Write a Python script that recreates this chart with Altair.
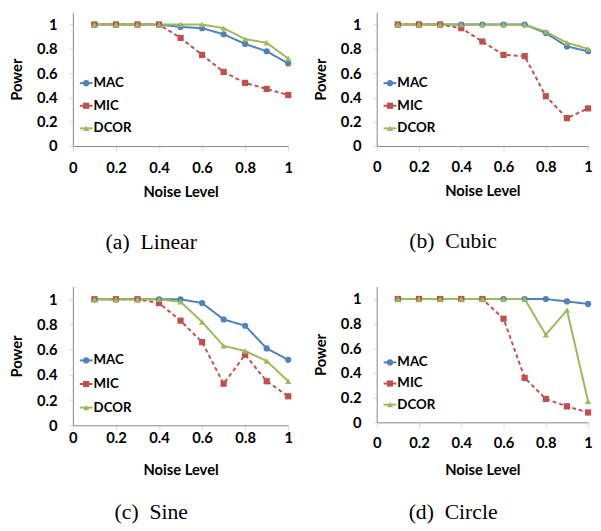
import altair as alt
import pandas as pd

# ---------------- data ----------------
noise = [0.1, 0.2, 0.3, 0.4, 0.5, 0.6, 0.7, 0.8, 0.9, 1.0]
methods = ["MAC", "MIC", "DCOR"]
captions = ["(a)\u00a0 Linear", "(b)\u00a0 Cubic", "(c)\u00a0 Sine", "(d)\u00a0 Circle"]
x_ticks = [0, 0.2, 0.4, 0.6, 0.8, 1]
y_ticks = [0, 0.2, 0.4, 0.6, 0.8, 1]

linear_mac = [1, 1, 1, 1, 0.98, 0.97, 0.92, 0.84, 0.78, 0.68]
linear_mic = [1, 1, 1, 1, 0.89, 0.75, 0.61, 0.52, 0.47, 0.42]
linear_dcor = [1, 1, 1, 1, 1, 1, 0.97, 0.88, 0.85, 0.72]

cubic_mac = [1, 1, 1, 1, 1, 1, 1, 0.93, 0.82, 0.78]
cubic_mic = [1, 1, 1, 0.97, 0.86, 0.75, 0.74, 0.41, 0.23, 0.31]
cubic_dcor = [1, 1, 1, 1, 1, 1, 1, 0.94, 0.85, 0.80]

sine_mac = [1, 1, 1, 1, 1, 0.97, 0.84, 0.79, 0.61, 0.52]
sine_mic = [1, 1, 1, 0.97, 0.83, 0.66, 0.33, 0.56, 0.35, 0.23]
sine_dcor = [1, 1, 1, 1, 0.98, 0.82, 0.63, 0.59, 0.51, 0.35]

circle_mac = [1, 1, 1, 1, 1, 1, 1, 1, 0.98, 0.96]
circle_mic = [1, 1, 1, 1, 1, 0.84, 0.36, 0.19, 0.13, 0.08]
circle_dcor = [1, 1, 1, 1, 1, 1, 1, 0.71, 0.91, 0.17]

# ---------------- style ----------------
COLORS = ["#4F81BD", "#C0504D", "#9BBB59"]
SHAPES = ["circle", "square", "triangle-up"]
DASHES = [[1, 0], [4, 3], [1, 0]]
FONT = "Lato"


def panel(mac, mic, dcor, caption, width, height, lab_pad, tit_pad, cap_off, leg_range):
    n = len(noise)
    df = pd.DataFrame({
        "noise": noise * 3,
        "power": mac + mic + dcor,
        "method": [methods[0]] * n + [methods[1]] * n + [methods[2]] * n,
    })
    leg_df = pd.DataFrame({"method": methods})

    x = alt.X("noise:Q", scale=alt.Scale(domain=[0, 1], nice=False),
              axis=alt.Axis(values=x_ticks, format="~g", title="Noise Level", labelFlush=False,
                            labelPadding=lab_pad, titlePadding=tit_pad))
    y = alt.Y("power:Q", scale=alt.Scale(domain=[0, 1.1], nice=False),
              axis=alt.Axis(values=y_ticks, format="~g", title="Power", labelFlush=False,
                            labelPadding=12, titlePadding=12, tickSize=4))
    color = alt.Color("method:N", scale=alt.Scale(domain=methods, range=COLORS), legend=None)
    shape = alt.Shape("method:N", scale=alt.Scale(domain=methods, range=SHAPES), legend=None)

    lines = alt.Chart(df).mark_line(strokeWidth=2).encode(
        x=x, y=y, color=color,
        strokeDash=alt.StrokeDash("method:N", scale=alt.Scale(domain=methods, range=DASHES),
                                  legend=None),
    )
    points = alt.Chart(df).mark_point(filled=True, opacity=1, size=40).encode(
        x=x, y=y, color=color, shape=shape,
    )
    plot = alt.layer(lines, points)

    # legend drawn inside the plot, Excel style
    ly = alt.Y("method:N", scale=alt.Scale(type="point", domain=methods, range=leg_range, padding=0),
               axis=None)
    leg_line = alt.Chart(leg_df).mark_rule(strokeWidth=2).encode(
        x=alt.value(7), x2=alt.value(20), y=ly, color=color)
    leg_pt = alt.Chart(leg_df).mark_point(filled=True, opacity=1, size=40).encode(
        x=alt.value(13.5), y=ly, color=color, shape=shape)
    leg_txt = alt.Chart(leg_df).mark_text(
        align="left", baseline="middle", font=FONT, fontSize=13.5, fontWeight="bold", color="black"
    ).encode(x=alt.value(21), y=ly, text="method:N")
    legend = alt.layer(leg_line, leg_pt, leg_txt)

    return alt.layer(plot, legend).resolve_scale(y="independent").properties(
        width=width, height=height,
        title=alt.TitleParams(caption, orient="bottom", anchor="middle", frame="bounds",
                              font="Liberation Serif", fontSize=22, fontWeight="normal",
                              color="black", offset=cap_off),
    )


pa = panel(linear_mac, linear_mic, linear_dcor, captions[0], 219, 136, 10, 9, 34, [72, 118])
pb = panel(cubic_mac, cubic_mic, cubic_dcor, captions[1], 215, 136, 9, 9, 34, [72, 118])
pc = panel(sine_mac, sine_mic, sine_dcor, captions[2], 219, 141, 0, 18, 25, [75, 123])
pd_ = panel(circle_mac, circle_mic, circle_dcor, captions[3], 215, 138, 9, 12, 25, [77, 120])

chart = alt.concat(pa, pb, pc, pd_, columns=2, spacing={"row": 34, "column": 21}).properties(
    padding={"left": 2, "top": 0, "right": 0, "bottom": 0}
).configure_axis(
    labelFont=FONT, labelFontSize=15, labelFontWeight="bold", labelColor="black",
    titleFont=FONT, titleFontSize=15, titleFontWeight="bold", titleColor="black",
    grid=False, domainColor="#868686", tickColor="#D9D9D9", tickSize=5,
).configure_view(stroke=None)

chart.save("out.html", embed_options={"renderer": "svg", "actions": False})
